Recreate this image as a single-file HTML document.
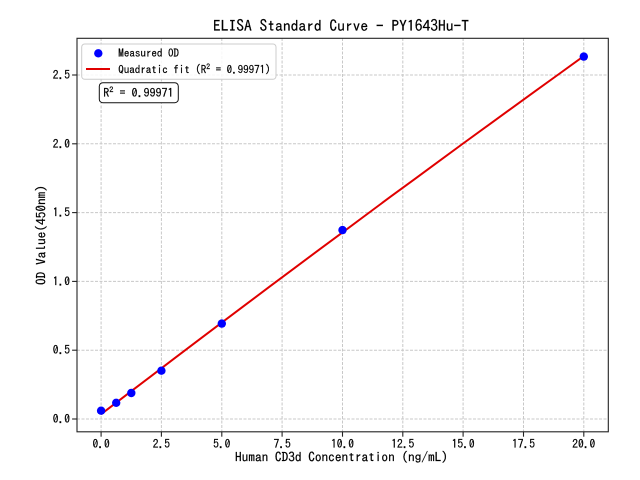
<!DOCTYPE html>
<html><head><meta charset="utf-8"><style>
html,body{margin:0;padding:0;background:#fff;}
svg{display:block;}
text{font-family:"IPAGothic","Liberation Mono","Noto Sans CJK SC",monospace;fill:#000;stroke:#000;stroke-width:0.2;}
</style></head><body>
<svg width="640" height="480" viewBox="0 0 640 480" xmlns="http://www.w3.org/2000/svg">
<rect x="0" y="0" width="640" height="480" fill="#fff"/>
<!-- grid -->
<g stroke="#c8c8c8" stroke-width="1" stroke-dasharray="3,1.5" fill="none">
<line x1="101.1" y1="38" x2="101.1" y2="432"/>
<line x1="161.4" y1="38" x2="161.4" y2="432"/>
<line x1="221.8" y1="38" x2="221.8" y2="432"/>
<line x1="282.1" y1="38" x2="282.1" y2="432"/>
<line x1="342.5" y1="38" x2="342.5" y2="432"/>
<line x1="402.8" y1="38" x2="402.8" y2="432"/>
<line x1="463.1" y1="38" x2="463.1" y2="432"/>
<line x1="523.5" y1="38" x2="523.5" y2="432"/>
<line x1="583.8" y1="38" x2="583.8" y2="432"/>
<line x1="77" y1="419" x2="608" y2="419"/>
<line x1="77" y1="350.2" x2="608" y2="350.2"/>
<line x1="77" y1="281.4" x2="608" y2="281.4"/>
<line x1="77" y1="212.6" x2="608" y2="212.6"/>
<line x1="77" y1="143.8" x2="608" y2="143.8"/>
<line x1="77" y1="75" x2="608" y2="75"/>
</g>
<!-- fit line -->
<polyline fill="none" stroke="#e00000" stroke-width="2" stroke-linejoin="round" points="101.1,414.2 125.2,395.8 149.4,377.4 173.5,359.1 197.6,340.8 221.8,322.6 245.9,304.4 270.0,286.3 294.2,268.3 318.3,250.3 342.5,232.4 366.6,214.5 390.7,196.6 414.9,178.9 439.0,161.2 463.1,143.5 487.3,125.9 511.4,108.4 535.5,90.9 559.7,73.5 583.8,56.1"/>
<!-- points -->
<g fill="#0000ff">
<circle cx="101.1" cy="410.7" r="4.2"/>
<circle cx="116.2" cy="402.8" r="4.2"/>
<circle cx="131.3" cy="393.0" r="4.2"/>
<circle cx="161.4" cy="370.7" r="4.2"/>
<circle cx="221.8" cy="323.6" r="4.2"/>
<circle cx="342.5" cy="230.1" r="4.2"/>
<circle cx="583.8" cy="56.6" r="4.2"/>
</g>
<!-- spines -->
<rect x="77" y="38.3" width="531.3" height="393.5" fill="none" stroke="#222" stroke-width="1.1"/>
<!-- ticks -->
<g stroke="#222" stroke-width="1.1">
<line x1="101.1" y1="431.8" x2="101.1" y2="436.7"/>
<line x1="161.4" y1="431.8" x2="161.4" y2="436.7"/>
<line x1="221.8" y1="431.8" x2="221.8" y2="436.7"/>
<line x1="282.1" y1="431.8" x2="282.1" y2="436.7"/>
<line x1="342.5" y1="431.8" x2="342.5" y2="436.7"/>
<line x1="402.8" y1="431.8" x2="402.8" y2="436.7"/>
<line x1="463.1" y1="431.8" x2="463.1" y2="436.7"/>
<line x1="523.5" y1="431.8" x2="523.5" y2="436.7"/>
<line x1="583.8" y1="431.8" x2="583.8" y2="436.7"/>
<line x1="72.1" y1="419" x2="77" y2="419"/>
<line x1="72.1" y1="350.2" x2="77" y2="350.2"/>
<line x1="72.1" y1="281.4" x2="77" y2="281.4"/>
<line x1="72.1" y1="212.6" x2="77" y2="212.6"/>
<line x1="72.1" y1="143.8" x2="77" y2="143.8"/>
<line x1="72.1" y1="75" x2="77" y2="75"/>
</g>
<!-- x tick labels -->
<g font-size="11.5" text-anchor="middle">
<text x="101.1" y="448">0.0</text>
<text x="161.4" y="448">2.5</text>
<text x="221.8" y="448">5.0</text>
<text x="282.1" y="448">7.5</text>
<text x="342.5" y="448">10.0</text>
<text x="402.8" y="448">12.5</text>
<text x="463.1" y="448">15.0</text>
<text x="523.5" y="448">17.5</text>
<text x="583.8" y="448">20.0</text>
</g>
<!-- y tick labels -->
<g font-size="11.5" text-anchor="end">
<text x="70" y="423">0.0</text>
<text x="70" y="354.2">0.5</text>
<text x="70" y="285.4">1.0</text>
<text x="70" y="216.6">1.5</text>
<text x="70" y="147.8">2.0</text>
<text x="70" y="79">2.5</text>
</g>
<!-- title & labels -->
<text x="213" y="31.5" font-size="15.5" textLength="256" lengthAdjust="spacingAndGlyphs">ELISA Standard Curve - PY1643Hu-T</text>
<text x="235" y="461.5" font-size="13" textLength="213" lengthAdjust="spacingAndGlyphs">Human CD3d Concentration (ng/mL)</text>
<text transform="translate(45.5,285) rotate(-90)" x="0" y="0" font-size="13" textLength="100" lengthAdjust="spacingAndGlyphs">OD Value(450nm)</text>
<!-- legend -->
<rect x="81.7" y="44" width="194.3" height="35.3" rx="3" ry="3" fill="#fff" fill-opacity="0.85" stroke="#cccccc" stroke-width="1"/>
<circle cx="98.3" cy="53.3" r="4.2" fill="#0000ff"/>
<line x1="86" y1="69" x2="110" y2="69" stroke="#e00000" stroke-width="2"/>
<text x="118.3" y="57" font-size="11" textLength="60.7" lengthAdjust="spacingAndGlyphs">Measured OD</text>
<text x="118.3" y="73.5" font-size="11">Quadratic fit (R<tspan font-size="7.7" dy="-4">2</tspan><tspan dy="4"> = 0.99971)</tspan></text>
<!-- R2 box -->
<rect x="99.3" y="82.7" width="79" height="20" rx="3.5" ry="3.5" fill="#fff" stroke="#111" stroke-width="1"/>
<text x="103.3" y="97" font-size="12">R<tspan font-size="8.4" dy="-4.5">2</tspan><tspan dy="4.5"> = 0.99971</tspan></text>
</svg>
</body></html>
